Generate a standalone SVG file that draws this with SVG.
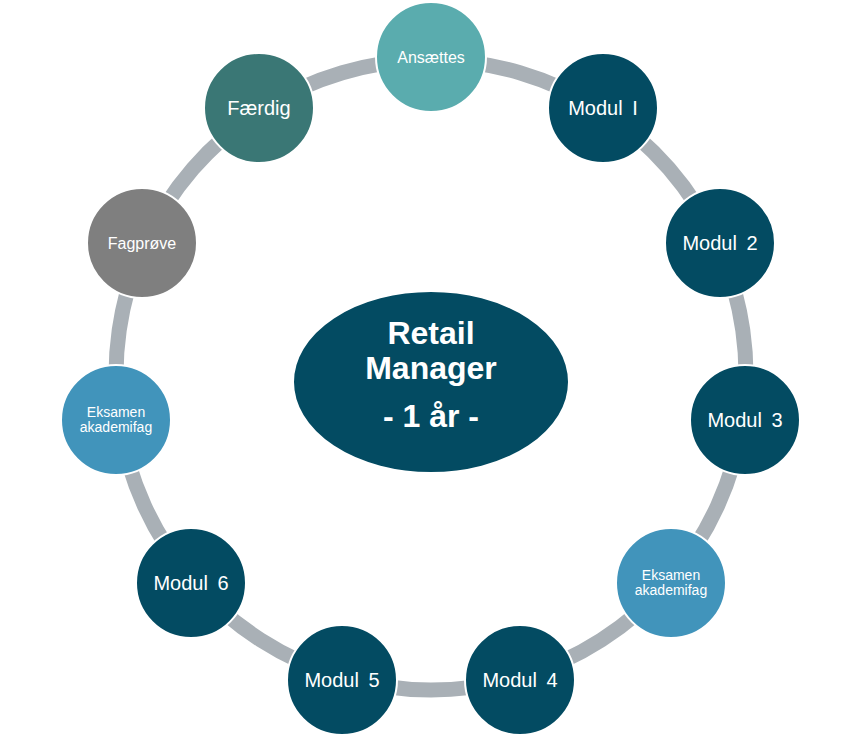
<svg xmlns="http://www.w3.org/2000/svg" width="862" height="737" viewBox="0 0 862 737">
<style>
.ring{fill:none;stroke:#a9b0b6;stroke-width:15}
.node{stroke:#ffffff;stroke-width:2}
.dark{fill:#034b62}
.teal{fill:#5aacae}
.blue{fill:#4194bb}
.gray{fill:#7f7f7f}
.green{fill:#3a7775}
.t{font-family:"Liberation Sans",Arial,sans-serif;fill:#ffffff;text-anchor:middle}
.t20{font-size:20px}
.t16{font-size:16px}
.t14{font-size:14px}
.big{font-size:32px;font-weight:bold}
</style>
<rect width="862" height="737" fill="#ffffff"/>
<g id="connectors">
<path class="ring" d="M431 60 A315 315 0 0 1 601.3 110"/>
<path class="ring" d="M601.3 110 A315 315 0 0 1 717.5 244.1"/>
<path class="ring" d="M717.5 244.1 A315 315 0 0 1 742.8 419.8"/>
<path class="ring" d="M742.8 419.8 A315 315 0 0 1 669.1 581.3"/>
<path class="ring" d="M669.1 581.3 A315 315 0 0 1 519.7 677.2"/>
<path class="ring" d="M519.7 677.2 A315 315 0 0 1 342.3 677.2"/>
<path class="ring" d="M342.3 677.2 A315 315 0 0 1 192.9 581.3"/>
<path class="ring" d="M192.9 581.3 A315 315 0 0 1 119.2 419.8"/>
<path class="ring" d="M119.2 419.8 A315 315 0 0 1 144.5 244.1"/>
<path class="ring" d="M144.5 244.1 A315 315 0 0 1 260.7 110"/>
<path class="ring" d="M260.7 110 A315 315 0 0 1 431 60"/>
</g>
<g id="center">
<ellipse class="node dark" cx="431" cy="382" rx="138" ry="91"/>
<text class="t big" x="431" y="344">Retail</text>
<text class="t big" x="431" y="379">Manager</text>
<text class="t big" x="431" y="427">- 1 år -</text>
</g>
<g id="ansaettes">
<circle class="node teal" cx="431" cy="57" r="55"/>
<text class="t t16" x="431" y="63">Ansættes</text>
</g>
<g id="modul1">
<circle class="node dark" cx="603" cy="108" r="55"/>
<text class="t t20" x="603" y="115" word-spacing="4">Modul I</text>
</g>
<g id="modul2">
<circle class="node dark" cx="720" cy="243" r="55"/>
<text class="t t20" x="720" y="250" word-spacing="4">Modul 2</text>
</g>
<g id="modul3">
<circle class="node dark" cx="745" cy="420" r="55"/>
<text class="t t20" x="745" y="427" word-spacing="4">Modul 3</text>
</g>
<g id="eksamen-right">
<circle class="node blue" cx="671" cy="583" r="55"/>
<text class="t t14" x="671" y="580">Eksamen</text>
<text class="t t14" x="671" y="595">akademifag</text>
</g>
<g id="modul4">
<circle class="node dark" cx="520" cy="680" r="55"/>
<text class="t t20" x="520" y="687" word-spacing="4">Modul 4</text>
</g>
<g id="modul5">
<circle class="node dark" cx="342" cy="680" r="55"/>
<text class="t t20" x="342" y="687" word-spacing="4">Modul 5</text>
</g>
<g id="modul6">
<circle class="node dark" cx="191" cy="583" r="55"/>
<text class="t t20" x="191" y="590" word-spacing="4">Modul 6</text>
</g>
<g id="eksamen-left">
<circle class="node blue" cx="116" cy="420" r="55"/>
<text class="t t14" x="116" y="417">Eksamen</text>
<text class="t t14" x="116" y="432">akademifag</text>
</g>
<g id="fagproeve">
<circle class="node gray" cx="142" cy="243" r="55"/>
<text class="t t16" x="142" y="249">Fagprøve</text>
</g>
<g id="faerdig">
<circle class="node green" cx="259" cy="108" r="55"/>
<text class="t t20" x="259" y="115">Færdig</text>
</g>
</svg>
